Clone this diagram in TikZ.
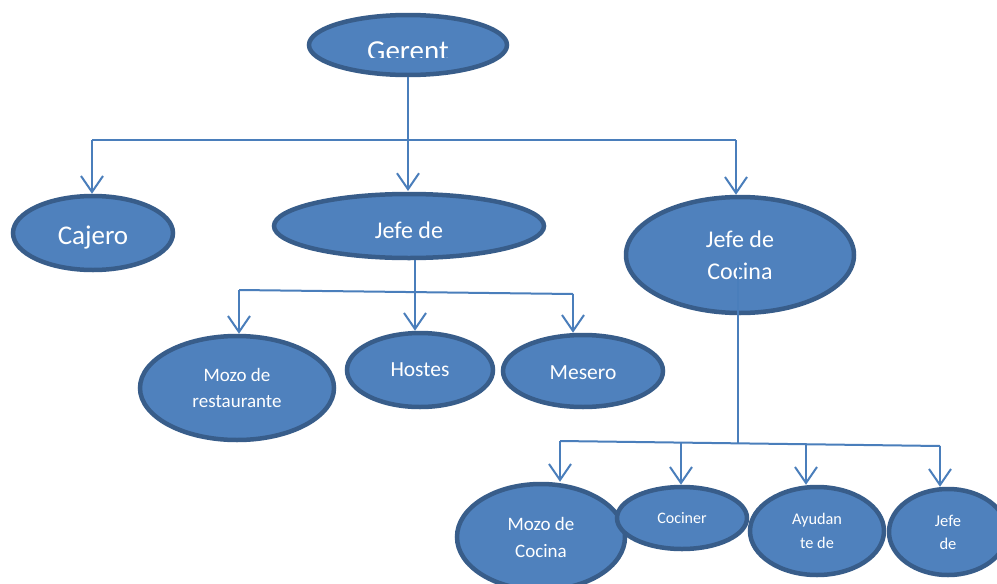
\documentclass[tikz,border=0pt]{standalone}
\usepackage{fontspec}
\setmainfont{Carlito}
\usetikzlibrary{shapes.geometric,arrows.meta}
\definecolor{efill}{HTML}{4F81BD}
\definecolor{eborder}{HTML}{385D8A}
\definecolor{conn}{HTML}{4A7EBB}
\newcommand{\lowr}[2]{\raisebox{-#1}[\height][\depth]{#2}}
\tikzset{
  oval/.style={ellipse, draw=eborder, fill=efill, line width=4.5pt, inner sep=0pt, text=white, align=center},
  link/.style={draw=conn, line width=2pt},
  arr/.style={link, -{Straight Barb[length=16pt,width=22pt,line width=2pt]}},
  fs/.style 2 args={font=\fontsize{#1}{#2}\selectfont}
}
\begin{document}
\begin{tikzpicture}[x=1pt,y=-1pt]
\useasboundingbox (0,0) rectangle (997,584);
\fill[white] (0,0) rectangle (997,584);
\clip (0,0) rectangle (997,584);

\coordinate (b1) at (92,140);
\coordinate (b2) at (736,140);

% nodes
\node[oval, minimum width=198pt, minimum height=60pt] (g) at (408,45) {};
\begin{scope}
\clip (300,0) rectangle (520,57);
\node[text=white, fs={29}{32}] (gt) at (408,51) {Gerent};
\end{scope}
\node[oval, minimum width=160pt, minimum height=74pt, fs={27}{30}] (caj) at (93,233) {\lowr{5pt}{Cajero}};
\node[oval, minimum width=270pt, minimum height=64pt, fs={24}{28}] (jd) at (409,226) {\lowr{4pt}{Jefe de}};
\node[oval, minimum width=228pt, minimum height=116pt, fs={24}{32}] (jc) at (740,255) {Jefe de\\Cocina};

\node[oval, minimum width=194pt, minimum height=104pt, fs={19}{26}] (mr) at (237,388) {Mozo de\\restaurante};
\node[oval, minimum width=146pt, minimum height=74pt, fs={21.5}{24}] (ho) at (420,370) {Hostes};
\node[oval, minimum width=160pt, minimum height=72pt, fs={21.5}{24}] (me) at (583,371) {\lowr{2pt}{Mesero}};

\node[oval, minimum width=168pt, minimum height=106pt, fs={19}{27}] (mc) at (541,537) {Mozo de\\Cocina};
\node[oval, minimum width=130pt, minimum height=62pt, fs={16}{20}] (co) at (682,518) {Cociner};
\node[oval, minimum width=134pt, minimum height=88pt, fs={16.3}{24}] (ay) at (817,531) {Ayudan\\te de};
\node[oval, minimum width=118pt, minimum height=86pt, fs={16.5}{23}] (jf) at (948,532) {Jefe\\de};

% top level connectors
\draw[arr] (g.south) -- (408,191);
\draw[link] (b1) -- (b2);
\draw[arr] (b1) -- (b1 |- caj.north);
\draw[arr] (b2) -- (b2 |- jc.north);

% Jefe de (sala)
\coordinate (js) at (415,260);
\coordinate (h1) at (239,290);
\coordinate (h2) at (573,294);
\draw[arr] (js) -- (js |- ho.north);
\draw[link] (h1) -- (h2);
\draw[arr] (h1) -- (h1 |- mr.north);
\draw[arr] (h2) -- (h2 |- me.north);

% Jefe de Cocina
\coordinate (ks) at (738,262);
\coordinate (k1) at (560,441);
\coordinate (k2) at (940,446);
\coordinate (k3) at (681,442);
\coordinate (k4) at (806,444);
\draw[link] (ks) -- (738,443);
\draw[link] (k1) -- (k2);
\draw[arr] (k1) -- (k1 |- mc.north);
\draw[arr] (k3) -- (k3 |- co.north);
\draw[arr] (k4) -- (k4 |- ay.north);
\draw[arr] (k2) -- (k2 |- jf.north);
\end{tikzpicture}
\end{document}
